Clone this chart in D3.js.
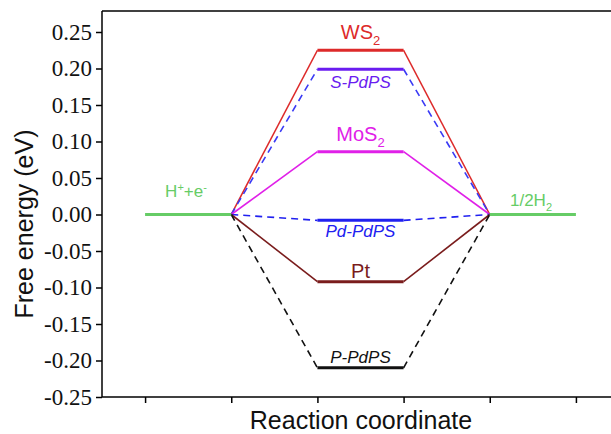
<!DOCTYPE html>
<html><head><meta charset="utf-8">
<script src="https://cdn.jsdelivr.net/npm/d3@7"></script>
<style>body{margin:0;background:#fff}svg{display:block}</style>
</head><body>
<svg id="c" width="611" height="434"></svg>
<script>
// Data
const catalysts = ["WS2", "S-PdPS", "MoS2", "Pd-PdPS", "Pt", "P-PdPS"];
const energies = [0.225, 0.199, 0.086, -0.008, -0.092, -0.210];
const initialEnergy = 0;   // H+ + e-
const finalEnergy = 0;     // 1/2 H2
const yTicks = [-0.25, -0.20, -0.15, -0.10, -0.05, 0.00, 0.05, 0.10, 0.15, 0.20, 0.25];
const xTicks = [1, 2, 3, 4, 5, 6];

// Styles
const SANS = "'Liberation Sans', Arial, sans-serif";
const SERIF = "'Liberation Serif', 'Times New Roman', serif";
const style = {
  "WS2":     {color: "#dd2a2a", level: "#dd2a2a", dash: null, italic: false, label: ["WS","2"], dy: -11},
  "S-PdPS":  {color: "#3a3af5", level: "#6a1cf0", dash: "7,5", italic: true, label: ["S-PdPS"], dy: 19},
  "MoS2":    {color: "#e020e8", level: "#e020e8", dash: null, italic: false, label: ["MoS","2"], dy: -11},
  "Pd-PdPS": {color: "#2020f0", level: "#2020f0", dash: "7,5", italic: true, label: ["Pd-PdPS"], dy: 17},
  "Pt":      {color: "#7a1c1c", level: "#7a1c1c", dash: null, italic: false, label: ["Pt"], dy: -4},
  "P-PdPS":  {color: "#111111", level: "#111111", dash: "7,5", italic: true, label: ["P-PdPS"], dy: -5}
};
const green = "#66cc66";

const svg = d3.select("#c");
const x = d3.scaleLinear().domain([0.5, 6.5]).range([102, 619]);
const y = d3.scaleLinear().domain([-0.25, 0.25]).range([397, 32]);
const yTop = 11;

// axes
svg.append("g").attr("transform", "translate(0,397)")
  .call(d3.axisBottom(x).tickValues(xTicks).tickSize(6).tickFormat(""))
  .call(g => g.select(".domain").attr("d", "M102,0H619"))
  .call(g => g.selectAll("line,path").attr("stroke", "#000").attr("stroke-width", 1.5));
svg.append("g").attr("transform", "translate(102,0)")
  .call(d3.axisLeft(y).tickValues(yTicks).tickSize(6).tickPadding(4).tickFormat(d => d3.format(".2f")(d).replace("\u2212", "-")))
  .call(g => g.select(".domain").attr("d", `M0,397V${yTop}`))
  .call(g => g.selectAll("line,path").attr("stroke", "#000").attr("stroke-width", 1.5))
  .call(g => g.selectAll("text").style("font-family", SERIF).style("font-size", "23px").attr("fill", "#111"));
svg.append("line").attr("x1", 102).attr("x2", 619).attr("y1", yTop).attr("y2", yTop)
  .attr("stroke", "#000").attr("stroke-width", 1.5);

// axis titles
svg.append("text").attr("x", 361).attr("y", 429).attr("text-anchor", "middle")
  .style("font-family", SANS).style("font-size", "25px").attr("fill", "#111")
  .text("Reaction coordinate");
svg.append("text").attr("transform", "translate(33,224) rotate(-90)").attr("text-anchor", "middle")
  .style("font-family", SANS).style("font-size", "25px").attr("fill", "#111")
  .text("Free energy (eV)");

// connectors (draw first)
catalysts.forEach((c, i) => {
  const s = style[c], e = energies[i];
  [[2, initialEnergy, 3, e], [4, e, 5, finalEnergy]].forEach(([a, ya, b, yb]) => {
    svg.append("line").attr("x1", x(a)).attr("y1", y(ya)).attr("x2", x(b)).attr("y2", y(yb))
      .attr("stroke", s.color).attr("stroke-width", 1.6)
      .attr("stroke-dasharray", s.dash);
  });
});
// levels
catalysts.forEach((c, i) => {
  const s = style[c], e = energies[i];
  svg.append("line").attr("x1", x(3)).attr("x2", x(4)).attr("y1", y(e)).attr("y2", y(e))
    .attr("stroke", s.level).attr("stroke-width", 3);
  const t = svg.append("text").attr("x", x(3.5)).attr("y", y(e) + s.dy).attr("text-anchor", "middle")
    .style("font-family", SANS)
    .style("font-size", s.italic ? "17px" : "20px")
    .style("font-style", s.italic ? "italic" : "normal")
    .attr("fill", s.level);
  t.append("tspan").text(s.label[0]);
  if (s.label[1]) t.append("tspan").attr("dy", 6).style("font-size", "13px").text(s.label[1]);
});
// initial / final states
svg.append("line").attr("x1", x(1)).attr("x2", x(2)).attr("y1", y(initialEnergy)).attr("y2", y(initialEnergy))
  .attr("stroke", green).attr("stroke-width", 3);
svg.append("line").attr("x1", x(5)).attr("x2", x(6)).attr("y1", y(finalEnergy)).attr("y2", y(finalEnergy))
  .attr("stroke", green).attr("stroke-width", 3);
const h = svg.append("text").attr("x", 186).attr("y", 197).attr("text-anchor", "middle")
  .style("font-family", SANS).style("font-size", "17px").attr("fill", green);
h.append("tspan").text("H");
h.append("tspan").attr("dy", -6).style("font-size", "11px").text("+");
h.append("tspan").attr("dy", 6).text("+e");
h.append("tspan").attr("dy", -6).style("font-size", "11px").text("-");
const f = svg.append("text").attr("x", 531).attr("y", 206).attr("text-anchor", "middle")
  .style("font-family", SANS).style("font-size", "17px").attr("fill", green);
f.append("tspan").text("1/2H");
f.append("tspan").attr("dy", 5).style("font-size", "11px").text("2");
</script>
</body></html>
